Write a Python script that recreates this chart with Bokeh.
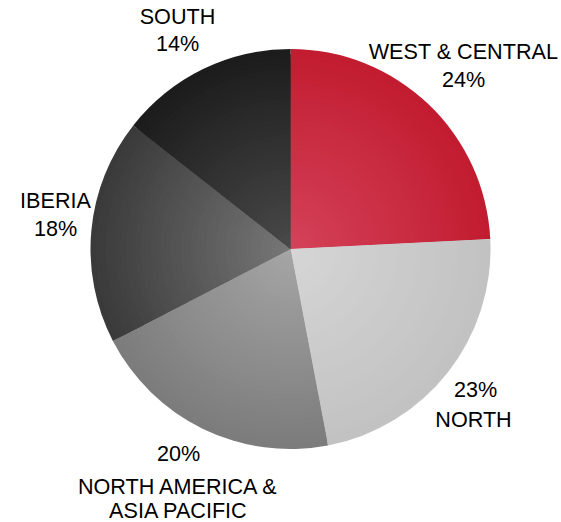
import math
from bokeh.plotting import figure
from bokeh.models import Range1d, ColumnDataSource
from bokeh.core.properties import value
from bokeh.embed import file_html
from bokeh.resources import INLINE

# ---- data ----
regions = ["WEST & CENTRAL", "NORTH", "NORTH AMERICA & ASIA PACIFIC", "IBERIA", "SOUTH"]
shares = [24.2, 22.8, 20.4, 18.2, 14.4]
inner_colors = ["#d4435b", "#d6d6d6", "#a6a6a6", "#787878", "#4a4a4a"]
outer_colors = ["#c21c30", "#c2c2c2", "#7c7c7c", "#3a3a3a", "#1c1c1c"]

W, H = 561, 522
CX, CY, R = 290, H - 248.5, 200

p = figure(width=W, height=H, x_range=Range1d(0, W), y_range=Range1d(0, H),
           output_backend="svg", toolbar_location=None, min_border=0)
p.axis.visible = False
p.xgrid.visible = False
p.ygrid.visible = False
p.outline_line_color = None
p.background_fill_color = "white"
p.border_fill_color = "white"

total = sum(shares)
starts, ends = [], []
acc = 0.0
for s in shares:
    a0 = math.pi / 2 - 2 * math.pi * acc / total
    acc += s
    a1 = math.pi / 2 - 2 * math.pi * acc / total
    starts.append(a0)
    ends.append(a1)

def hex2rgb(h):
    h = h.lstrip("#")
    return tuple(int(h[i:i + 2], 16) for i in (0, 2, 4))

def mix(c1, c2, t):
    a, b = hex2rgb(c1), hex2rgb(c2)
    return "#%02x%02x%02x" % tuple(round(a[i] + (b[i] - a[i]) * t) for i in range(3))

N = 40
for k in range(N):
    frac = 1 - k / N
    rad = R * frac
    cols = [mix(inner_colors[i], outer_colors[i], frac) for i in range(len(shares))]
    src = ColumnDataSource(dict(x=[CX] * len(shares), y=[CY] * len(shares),
                                start=starts, end=ends, color=cols))
    p.wedge(x="x", y="y", radius=rad, start_angle="end", end_angle="start",
            direction="anticlock", fill_color="color", line_color=None, source=src)

# ---- labels ----
pcts = ["%d%%" % round(s) for s in shares]
lab_lines = [
    (regions[0], 463, 51), (pcts[0], 463, 79),
    (pcts[1], 475, 389), (regions[1], 473, 419),
    (pcts[2], 178, 453), ("NORTH AMERICA &", 178, 486), ("ASIA PACIFIC", 178, 510),
    (regions[3], 55, 200), (pcts[3], 55, 228),
    (regions[4], 177, 16), (pcts[4], 177, 43),
]
lsrc = ColumnDataSource(dict(x=[l[1] for l in lab_lines], y=[H - l[2] for l in lab_lines],
                             t=[l[0] for l in lab_lines]))
p.text(x="x", y="y", text="t", source=lsrc, text_align="center", text_baseline="middle",
       text_font=value("Liberation Sans"), text_font_size="21.6px", text_color="#000000")

open("out.html", "w").write(file_html(p, INLINE))
